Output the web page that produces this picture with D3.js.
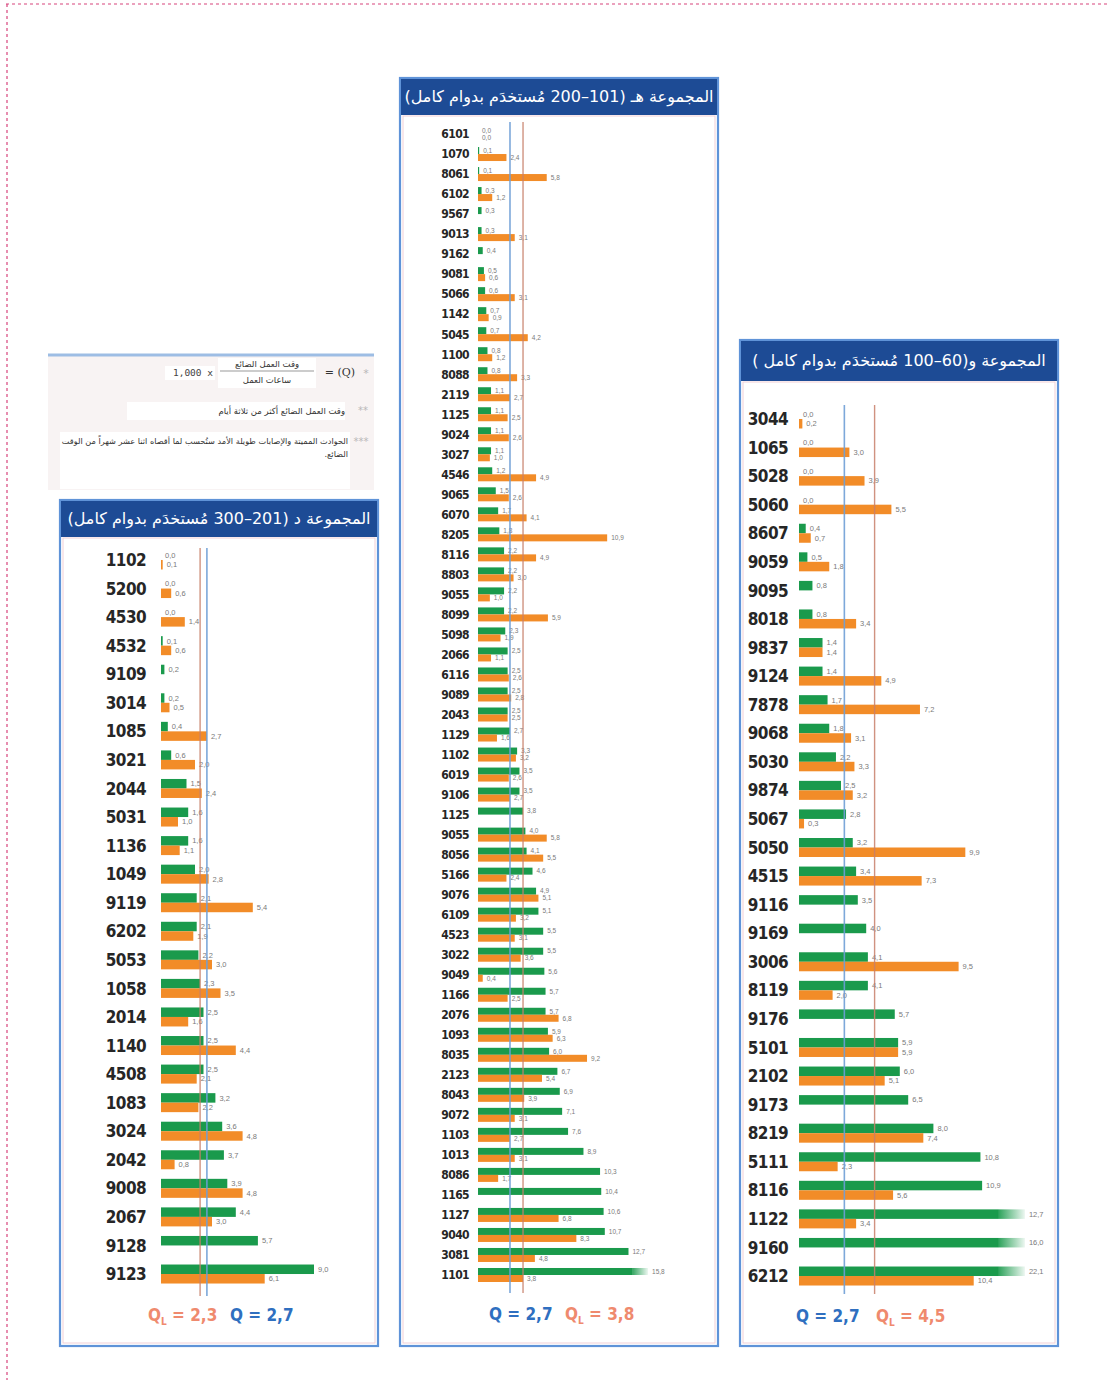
<!DOCTYPE html>
<html>
<head>
<meta charset="utf-8">
<script src="https://cdn.jsdelivr.net/npm/d3@7"></script>
<style>
  body { margin: 0; background: #fff; }
  svg { display: block; }
</style>
</head>
<body>
<svg id="chart" width="1108" height="1380"></svg>
<script>
// ---- data: group D (201-300 employees)
var idsD = ["1102","5200","4530","4532","9109","3014","1085","3021","2044","5031","1136","1049","9119","6202","5053","1058","2014","1140","4508","1083","3024","2042","9008","2067","9128","9123"];
var greenD = [0.0,0.0,0.0,0.1,0.2,0.2,0.4,0.6,1.5,1.6,1.6,2.0,2.1,2.1,2.2,2.3,2.5,2.5,2.5,3.2,3.6,3.7,3.9,4.4,5.7,9.0];
var orangeD = [0.1,0.6,1.4,0.6,null,0.5,2.7,2.0,2.4,1.0,1.1,2.8,5.4,1.9,3.0,3.5,1.6,4.4,2.1,2.2,4.8,0.8,4.8,3.0,null,6.1];
var qD = 2.7, qlD = 2.3;

// ---- data: group H (101-200 employees)
var idsH = ["6101","1070","8061","6102","9567","9013","9162","9081","5066","1142","5045","1100","8088","2119","1125","9024","3027","4546","9065","6070","8205","8116","8803","9055","8099","5098","2066","6116","9089","2043","1129","1102","6019","9106","1125","9055","8056","5166","9076","6109","4523","3022","9049","1166","2076","1093","8035","2123","8043","9072","1103","1013","8086","1165","1127","9040","3081","1101"];
var greenH = [0.0,0.1,0.1,0.3,0.3,0.3,0.4,0.5,0.6,0.7,
              0.7,0.8,0.8,1.1,1.1,1.1,1.1,1.2,1.5,1.7,
              1.8,2.2,2.2,2.2,2.2,2.3,2.5,2.5,2.5,2.5,
              2.7,3.3,3.5,3.5,3.8,4.0,4.1,4.6,4.9,5.1,
              5.5,5.5,5.6,5.7,5.7,5.9,6.0,6.7,6.9,7.1,
              7.6,8.9,10.3,10.4,10.6,10.7,12.7,15.8];
var orangeH = [0.0,2.4,5.8,1.2,null,3.1,null,0.6,3.1,0.9,
               4.2,1.2,3.3,2.7,2.5,2.6,1.0,4.9,2.6,4.1,
               10.9,4.9,3.0,1.0,5.9,1.9,1.1,2.6,2.8,2.5,
               1.6,3.2,2.6,2.7,null,5.8,5.5,2.4,5.1,3.2,
               3.1,3.6,0.4,2.5,6.8,6.3,9.2,5.4,3.9,3.1,
               2.7,3.1,1.7,null,6.8,8.3,4.8,3.8];
var qH = 2.7, qlH = 3.8;

// ---- data: group W (60-100 employees)
var idsW = ["3044","1065","5028","5060","8607","9059","9095","8018","9837","9124","7878","9068","5030","9874","5067","5050","4515","9116","9169","3006","8119","9176","5101","2102","9173","8219","5111","8116","1122","9160","6212"];
var greenW = [0.0,0.0,0.0,0.0,0.4,0.5,0.8,0.8,1.4,1.4,
              1.7,1.8,2.2,2.5,2.8,3.2,3.4,3.5,4.0,4.1,
              4.1,5.7,5.9,6.0,6.5,8.0,10.8,10.9,12.7,16.0,22.1];
var orangeW = [0.2,3.0,3.9,5.5,0.7,1.8,null,3.4,1.4,4.9,
               7.2,3.1,3.3,3.2,0.3,9.9,7.3,null,null,9.5,
               2.0,null,5.9,5.1,null,7.4,2.3,5.6,3.4,null,10.4];
var qW = 2.7, qlW = 4.5;

var GREEN = "#1a9a4c", ORANGE = "#f28c28", NAVY = "#1d4b95",
    QBLUE = "#6f9fd6", QLRED = "#c8806a";

var fmt = function(v) { return d3.format(".1f")(v).replace(".", ","); };

var svg = d3.select("#chart");

var defs = svg.append("defs");
var grad = defs.append("linearGradient").attr("id", "fade");
grad.append("stop").attr("offset", "0%").attr("stop-color", GREEN).attr("stop-opacity", 0.9);
grad.append("stop").attr("offset", "100%").attr("stop-color", GREEN).attr("stop-opacity", 0.08);

// dashed page frame
svg.append("line").attr("x1", 6).attr("x2", 1108).attr("y1", 4).attr("y2", 4)
  .attr("stroke", "#d8447c").attr("stroke-width", 1.2).attr("stroke-dasharray", "3,3");
svg.append("line").attr("x1", 7).attr("x2", 7).attr("y1", 4).attr("y2", 1380)
  .attr("stroke", "#d8447c").attr("stroke-width", 1.2).attr("stroke-dasharray", "3,3");

// ---- formula note box
var note = svg.append("g").style("font-family", "DejaVu Sans, sans-serif");
note.append("rect").attr("x", 48).attr("y", 356).attr("width", 326).attr("height", 134).attr("fill", "#f8f3f3");
note.append("line").attr("x1", 48).attr("x2", 374).attr("y1", 355).attr("y2", 355)
  .attr("stroke", "#9dbde4").attr("stroke-width", 3);
note.append("rect").attr("x", 218).attr("y", 358).attr("width", 98).attr("height", 30).attr("fill", "#fff");
note.append("rect").attr("x", 165).attr("y", 366).attr("width", 50).attr("height", 14).attr("fill", "#fff");
note.append("rect").attr("x", 127).attr("y", 402).attr("width", 218).attr("height", 18).attr("fill", "#fff");
note.append("rect").attr("x", 60).attr("y", 432).attr("width", 290).attr("height", 57).attr("fill", "#fff");
note.append("text").attr("x", 366).attr("y", 377).attr("text-anchor", "middle")
  .attr("fill", "#b8b8b8").style("font-size", "11px").text("*");
note.append("text").attr("x", 355).attr("y", 376).attr("text-anchor", "end")
  .attr("fill", "#333").style("font-family", "DejaVu Serif, serif").style("font-size", "11px").text("= (Q)");
note.append("text").attr("x", 267).attr("y", 367).attr("text-anchor", "middle").attr("direction", "rtl")
  .attr("fill", "#333").style("font-size", "8.5px").text("وقت العمل الضائع");
note.append("line").attr("x1", 220).attr("x2", 314).attr("y1", 371).attr("y2", 371)
  .attr("stroke", "#999").attr("stroke-width", 1);
note.append("text").attr("x", 267).attr("y", 383).attr("text-anchor", "middle").attr("direction", "rtl")
  .attr("fill", "#333").style("font-size", "8.5px").text("ساعات العمل");
note.append("text").attr("x", 213).attr("y", 376).attr("text-anchor", "end")
  .attr("fill", "#444").style("font-family", "DejaVu Sans Mono, monospace").style("font-size", "9.5px").text("1,000 x");
note.append("text").attr("x", 363).attr("y", 414).attr("text-anchor", "middle")
  .attr("fill", "#b8b8b8").style("font-size", "10px").text("**");
note.append("text").attr("x", 345).attr("y", 414).attr("text-anchor", "start").attr("direction", "rtl")
  .attr("fill", "#333").style("font-size", "8.5px").text("وقت العمل الضائع أكثر من ثلاثة أيام");
note.append("text").attr("x", 361).attr("y", 445).attr("text-anchor", "middle")
  .attr("fill", "#b8b8b8").style("font-size", "10px").text("***");
note.append("text").attr("x", 348).attr("y", 444).attr("text-anchor", "start").attr("direction", "rtl")
  .attr("fill", "#333").style("font-size", "8.2px")
  .text("الحوادث المميتة والإصابات طويلة الأمد ستُحسب لما أقصاه اثنا عشر شهراً من الوقت");
note.append("text").attr("x", 348).attr("y", 457).attr("text-anchor", "start").attr("direction", "rtl")
  .attr("fill", "#333").style("font-size", "8.2px").text("الضائع.");

// ---- panels
var panels = [
  { x: 60, y: 500, w: 318, h: 846, titleH: 36,
    title: "المجموعة د (201–300 مُستخدَم بدوام كامل)",
    ids: idsD, green: greenD, orange: orangeD, q: qD, ql: qlD,
    xr: [161, 331], yr: [545.7, 1288.3], barH: 9.5, labX: 146, labSize: 17,
    lineY: [548, 1296], cap: null, footY: 1321, footQ: 230, footQL: 148 },
  { x: 400, y: 78, w: 318, h: 1268, titleH: 36,
    title: "المجموعة هـ (101–200 مُستخدَم بدوام كامل)",
    ids: idsH, green: greenH, orange: orangeH, q: qH, ql: qlH,
    xr: [478, 596.5], yr: [124, 1285], barH: 7, labX: 469, labSize: 12,
    lineY: [122, 1293], cap: 13.0, fadeW: 16, footY: 1320, footQ: 489, footQL: 565 },
  { x: 740, y: 340, w: 318, h: 1006, titleH: 40,
    title: "المجموعة و(60–100 مُستخدَم بدوام كامل )",
    ids: idsW, green: greenW, orange: orangeW, q: qW, ql: qlW,
    xr: [799, 967], yr: [404.7, 1290.3], barH: 9.5, labX: 788, labSize: 17,
    lineY: [405, 1294], cap: 11.9, fadeW: 26, footY: 1322, footQ: 796, footQL: 876 }
];

panels.forEach(function(p) {
  var g = svg.append("g");

  g.append("rect").attr("x", p.x).attr("y", p.y).attr("width", p.w).attr("height", p.h)
    .attr("fill", "#fff").attr("stroke", "#5f93d8").attr("stroke-width", 2.2);
  g.append("rect").attr("x", p.x + 3).attr("y", p.y + p.titleH + 2).attr("width", p.w - 6).attr("height", p.h - p.titleH - 5)
    .attr("fill", "none").attr("stroke", "#f1cfd6").attr("stroke-width", 1);
  g.append("rect").attr("x", p.x + 1).attr("y", p.y + 1).attr("width", p.w - 2).attr("height", p.titleH)
    .attr("fill", NAVY);
  g.append("text").attr("x", p.x + p.w / 2).attr("y", p.y + p.titleH / 2 + 6)
    .attr("text-anchor", "middle").attr("direction", "rtl").attr("fill", "#fff")
    .style("font-family", "DejaVu Sans, sans-serif").style("font-size", "16px")
    .text(p.title);

  var x = d3.scaleLinear().domain([0, 10]).range(p.xr);
  var y = d3.scaleBand().domain(d3.range(p.ids.length)).range(p.yr);
  var mid = function(i) { return y(i) + y.bandwidth() / 2; };
  var barEnd = function(v) { return p.cap != null && v > p.cap ? x(p.cap) : x(v); };

  var rows = g.selectAll(".row").data(p.ids.map(function(id, i) {
    return { id: id, i: i, g: p.green[i], o: p.orange[i] };
  })).enter().append("g").attr("class", "row");

  rows.append("text").attr("x", p.labX).attr("y", function(d) { return mid(d.i); })
    .attr("dy", "0.36em").attr("text-anchor", "end").attr("fill", "#262626")
    .style("font-family", "DejaVu Sans Condensed, Liberation Sans, sans-serif")
    .style("font-weight", "bold").style("font-size", p.labSize + "px")
    .style("letter-spacing", "-0.6px")
    .text(function(d) { return d.id; });

  // green bars
  rows.filter(function(d) { return d.g != null; }).append("rect")
    .attr("x", x(0)).attr("y", function(d) { return mid(d.i) - p.barH; })
    .attr("width", function(d) { return barEnd(d.g) - x(0); })
    .attr("height", p.barH).attr("fill", GREEN);
  // broken bars fade out past the cap
  rows.filter(function(d) { return p.cap != null && d.g > p.cap; }).append("rect")
    .attr("x", x(p.cap)).attr("y", function(d) { return mid(d.i) - p.barH; })
    .attr("width", p.fadeW).attr("height", p.barH).attr("fill", "url(#fade)");
  // orange bars
  rows.filter(function(d) { return d.o != null; }).append("rect")
    .attr("x", x(0)).attr("y", function(d) { return mid(d.i); })
    .attr("width", function(d) { return barEnd(d.o) - x(0); })
    .attr("height", p.barH).attr("fill", ORANGE);

  var vs = p.barH > 8 ? 7.5 : 6.5;
  rows.filter(function(d) { return d.g != null; }).append("text")
    .attr("x", function(d) { return barEnd(d.g) + 4 + (p.cap != null && d.g > p.cap ? p.fadeW : 0); })
    .attr("y", function(d) { return mid(d.i) - p.barH / 2; }).attr("dy", "0.35em")
    .attr("fill", "#7a7a7a").style("font-family", "Liberation Sans, sans-serif").style("font-size", vs + "px")
    .text(function(d) { return fmt(d.g); });
  rows.filter(function(d) { return d.o != null; }).append("text")
    .attr("x", function(d) { return barEnd(d.o) + 4; })
    .attr("y", function(d) { return mid(d.i) + p.barH / 2; }).attr("dy", "0.35em")
    .attr("fill", "#7a7a7a").style("font-family", "Liberation Sans, sans-serif").style("font-size", vs + "px")
    .text(function(d) { return fmt(d.o); });

  // reference lines
  g.append("line").attr("x1", x(p.q)).attr("x2", x(p.q)).attr("y1", p.lineY[0]).attr("y2", p.lineY[1])
    .attr("stroke", QBLUE).attr("stroke-width", 1.6).attr("opacity", 0.9);
  g.append("line").attr("x1", x(p.ql)).attr("x2", x(p.ql)).attr("y1", p.lineY[0]).attr("y2", p.lineY[1])
    .attr("stroke", QLRED).attr("stroke-width", 1.4).attr("opacity", 0.85);

  // footer
  g.append("text").attr("x", p.footQ).attr("y", p.footY)
    .attr("fill", "#2f6fc0").style("font-family", "DejaVu Sans Condensed, Liberation Sans, sans-serif")
    .style("font-weight", "bold").style("font-size", "17px")
    .text("Q = " + fmt(p.q));
  var fl = g.append("text").attr("x", p.footQL).attr("y", p.footY)
    .attr("fill", "#ef8a6e").style("font-family", "DejaVu Sans Condensed, Liberation Sans, sans-serif")
    .style("font-weight", "bold").style("font-size", "17px");
  fl.append("tspan").text("Q");
  fl.append("tspan").attr("dy", 4).style("font-size", "10px").text("L");
  fl.append("tspan").attr("dy", -4).text(" = " + fmt(p.ql));
});
</script>
</body>
</html>
